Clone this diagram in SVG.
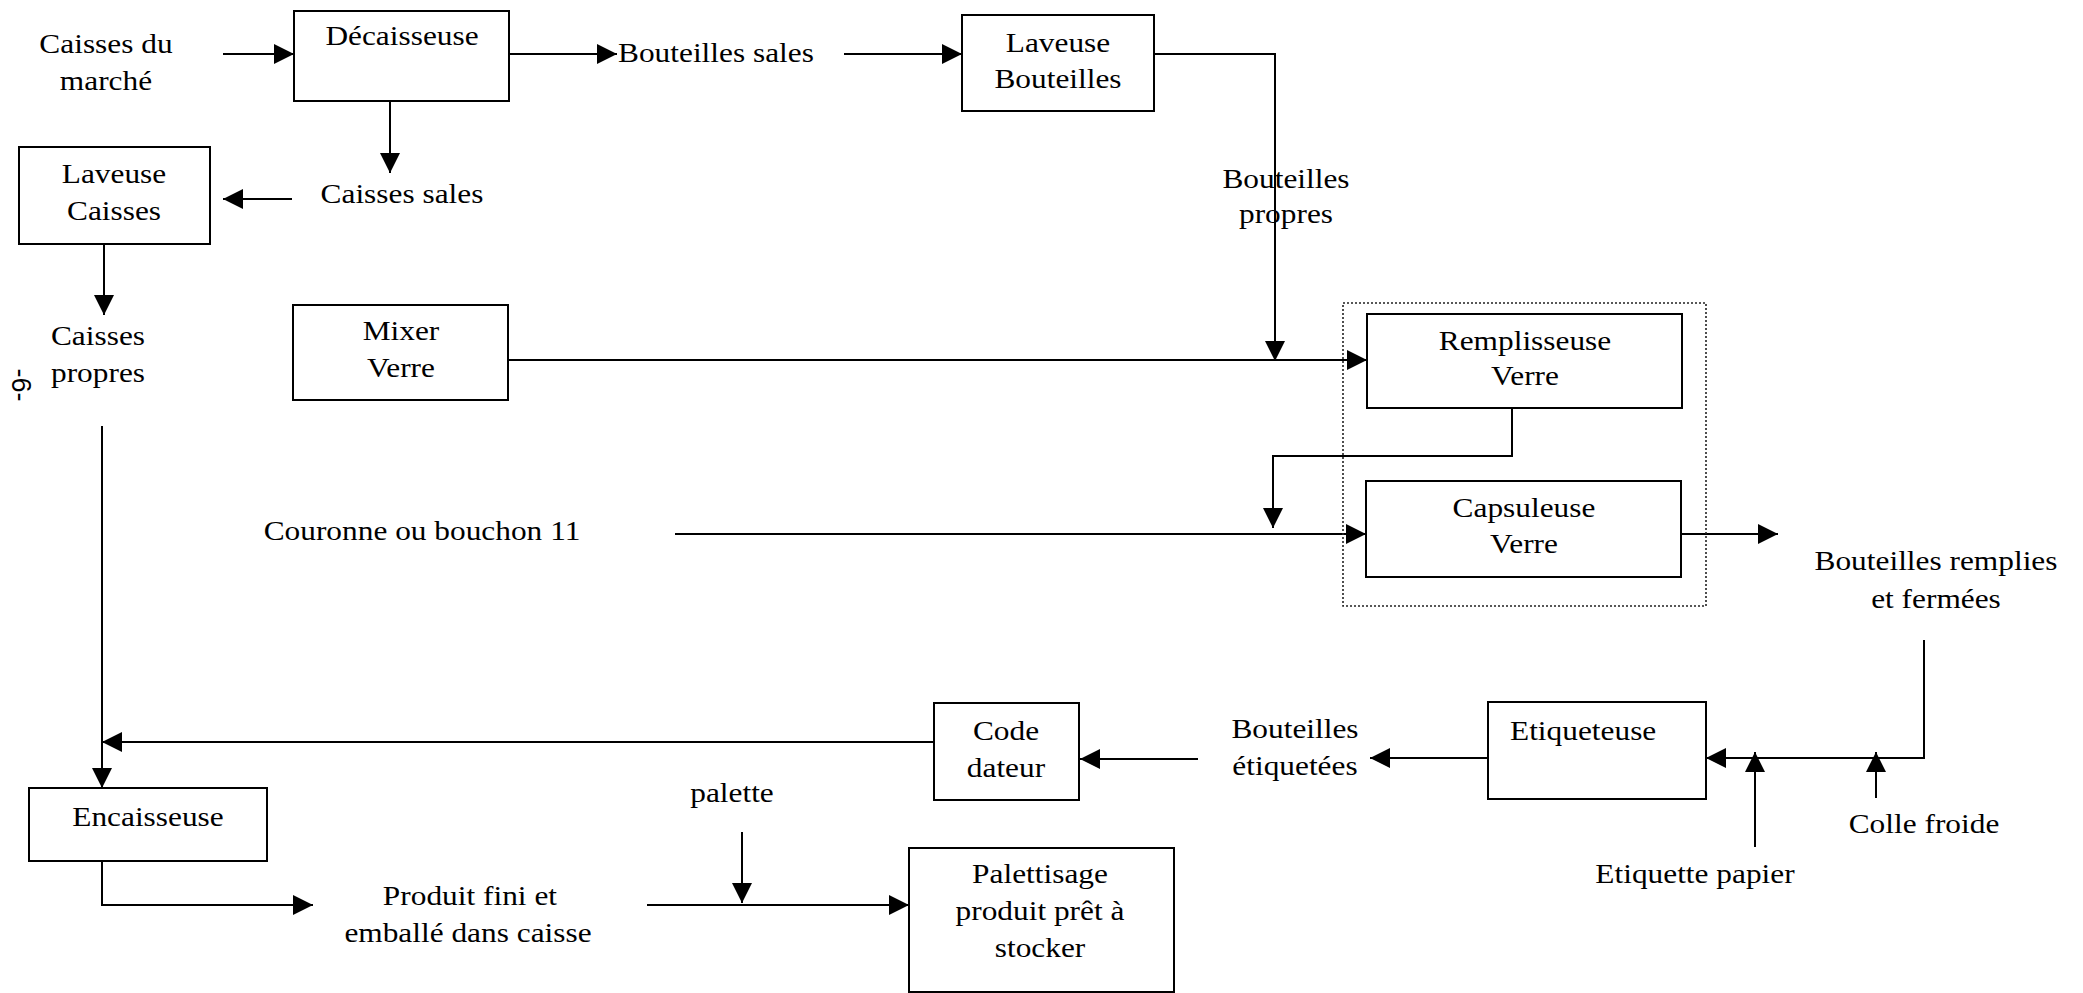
<svg xmlns="http://www.w3.org/2000/svg" width="2083" height="993" viewBox="0 0 2083 993">
  <style>
    .box { fill: #fff; stroke: #000; stroke-width: 2; }
    .group { fill: none; stroke: #222; stroke-width: 1.6; stroke-dasharray: 2 2; }
    .wire { fill: none; stroke: #000; stroke-width: 2; }
    .arrow { marker-end: url(#head); }
    .t { font-family: "Liberation Serif", "Times New Roman", serif; font-size: 28px; fill: #000; text-anchor: middle;
         transform-box: fill-box; transform-origin: 50% 50%; transform: scaleX(1.12); }
    .s { text-anchor: start; transform-origin: 0% 50%; }
    .pg { font-family: "Liberation Sans", Arial, sans-serif; font-size: 27px; fill: #000; text-anchor: middle; }
  </style>
  <defs>
    <marker id="head" markerUnits="userSpaceOnUse" markerWidth="20" markerHeight="20" refX="20" refY="10" orient="auto">
      <path d="M0,0 L20,10 L0,20 z" fill="#000"/>
    </marker>
  </defs>
  <rect width="2083" height="993" fill="#fff"/>

  <!-- connectors -->
  <g id="connectors">
    <path class="wire arrow" d="M223,54 H294"/>
    <path class="wire arrow" d="M509,54 H617"/>
    <path class="wire arrow" d="M844,54 H962"/>
    <path class="wire arrow" d="M1154,54 H1275 V361"/>
    <path class="wire arrow" d="M390,101 V173"/>
    <path class="wire arrow" d="M292,199 H223"/>
    <path class="wire arrow" d="M104,244 V315"/>
    <path class="wire arrow" d="M508,360 H1367"/>
    <path class="wire arrow" d="M1512,408 V456 H1273 V528"/>
    <path class="wire arrow" d="M675,534 H1366"/>
    <path class="wire arrow" d="M1681,534 H1778"/>
    <path class="wire arrow" d="M1924,640 V758 H1706"/>
    <path class="wire arrow" d="M1755,847 V752"/>
    <path class="wire arrow" d="M1876,798 V752"/>
    <path class="wire arrow" d="M1488,758 H1370"/>
    <path class="wire arrow" d="M1198,759 H1080"/>
    <path class="wire arrow" d="M934,742 H102"/>
    <path class="wire arrow" d="M102,426 V788"/>
    <path class="wire arrow" d="M102,861 V905 H313"/>
    <path class="wire arrow" d="M647,905 H909"/>
    <path class="wire arrow" d="M742,832 V903"/>
  </g>

  <!-- filling / capping unit outline -->
  <rect id="bloc-remplissage" class="group" x="1343" y="303" width="363" height="303"/>

  <g id="decaisseuse">
    <rect class="box" x="294" y="11" width="215" height="90"/>
    <text class="t" x="402" y="45">Décaisseuse</text>
  </g>
  <g id="laveuse-bouteilles">
    <rect class="box" x="962" y="15" width="192" height="96"/>
    <text class="t" x="1058" y="52">Laveuse</text>
    <text class="t" x="1058" y="88">Bouteilles</text>
  </g>
  <g id="laveuse-caisses">
    <rect class="box" x="19" y="147" width="191" height="97"/>
    <text class="t" x="114" y="183">Laveuse</text>
    <text class="t" x="114" y="220">Caisses</text>
  </g>
  <g id="mixer-verre">
    <rect class="box" x="293" y="305" width="215" height="95"/>
    <text class="t" x="401" y="340">Mixer</text>
    <text class="t" x="401" y="377">Verre</text>
  </g>
  <g id="remplisseuse">
    <rect class="box" x="1367" y="314" width="315" height="94"/>
    <text class="t" x="1525" y="350">Remplisseuse</text>
    <text class="t" x="1525" y="385">Verre</text>
  </g>
  <g id="capsuleuse">
    <rect class="box" x="1366" y="481" width="315" height="96"/>
    <text class="t" x="1524" y="517">Capsuleuse</text>
    <text class="t" x="1524" y="553">Verre</text>
  </g>
  <g id="etiqueteuse">
    <rect class="box" x="1488" y="702" width="218" height="97"/>
    <text class="t s" x="1510" y="740">Etiqueteuse</text>
  </g>
  <g id="code-dateur">
    <rect class="box" x="934" y="703" width="145" height="97"/>
    <text class="t" x="1006" y="740">Code</text>
    <text class="t" x="1006" y="777">dateur</text>
  </g>
  <g id="encaisseuse">
    <rect class="box" x="29" y="788" width="238" height="73"/>
    <text class="t" x="148" y="826">Encaisseuse</text>
  </g>
  <g id="palettisage">
    <rect class="box" x="909" y="848" width="265" height="144"/>
    <text class="t" x="1040" y="883">Palettisage</text>
    <text class="t" x="1040" y="920">produit prêt à</text>
    <text class="t" x="1040" y="957">stocker</text>
  </g>

  <!-- flow labels -->
  <g id="caisses-marche">
    <text class="t" x="106" y="53">Caisses du</text>
    <text class="t" x="106" y="90">marché</text>
  </g>
  <g id="bouteilles-sales">
    <text class="t s" x="618" y="62">Bouteilles sales</text>
  </g>
  <g id="caisses-sales">
    <text class="t" x="402" y="203">Caisses sales</text>
  </g>
  <g id="bouteilles-propres">
    <text class="t" x="1286" y="188">Bouteilles</text>
    <text class="t" x="1286" y="223">propres</text>
  </g>
  <g id="caisses-propres">
    <text class="t" x="98" y="345">Caisses</text>
    <text class="t" x="98" y="382">propres</text>
  </g>
  <g id="couronne">
    <text class="t" x="422" y="540">Couronne ou bouchon 11</text>
  </g>
  <g id="bouteilles-remplies">
    <text class="t" x="1936" y="570">Bouteilles remplies</text>
    <text class="t" x="1936" y="608">et fermées</text>
  </g>
  <g id="bouteilles-etiquetees">
    <text class="t" x="1295" y="738">Bouteilles</text>
    <text class="t" x="1295" y="775">étiquetées</text>
  </g>
  <g id="etiquette-papier">
    <text class="t" x="1695" y="883">Etiquette papier</text>
  </g>
  <g id="colle-froide">
    <text class="t" x="1924" y="833">Colle froide</text>
  </g>
  <g id="palette">
    <text class="t" x="732" y="802">palette</text>
  </g>
  <g id="produit-fini">
    <text class="t" x="470" y="905">Produit fini et</text>
    <text class="t" x="468" y="942">emballé dans caisse</text>
  </g>

  <!-- page number -->
  <text class="pg" x="0" y="0" transform="translate(12,385) rotate(90)">-6-</text>
</svg>
